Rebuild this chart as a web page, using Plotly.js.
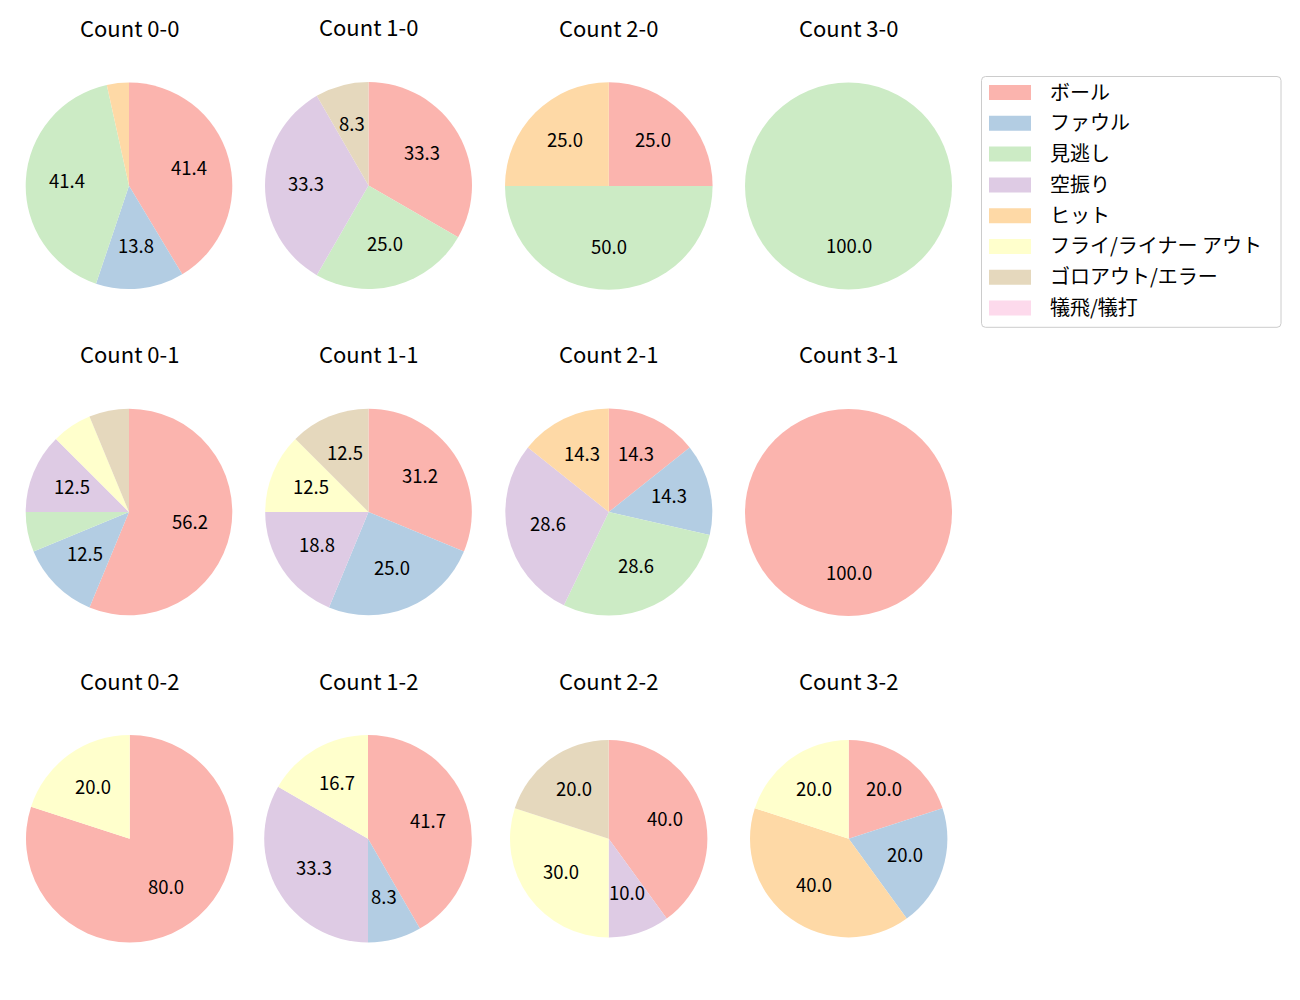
<!DOCTYPE html>
<html>
<head>
<meta charset="utf-8">
<script src="https://cdn.plot.ly/plotly-3.0.1.min.js"></script>
<style>html,body{margin:0;padding:0;background:#fff;}#chart{width:1300px;height:1000px;}</style>
</head>
<body>
<div id="chart"></div>
<script>
// ---- data ----
const categories = ['ボール', 'ファウル', '見逃し', '空振り', 'ヒット', 'フライ/ライナー アウト', 'ゴロアウト/エラー', '犠飛/犠打'];
const countLabels = ['0-0', '1-0', '2-0', '3-0', '0-1', '1-1', '2-1', '3-1', '0-2', '1-2', '2-2', '3-2'];
const count_0_0 = [12, 4, 12, 0, 1, 0, 0, 0];
const count_1_0 = [4, 0, 3, 4, 0, 0, 1, 0];
const count_2_0 = [1, 0, 2, 0, 1, 0, 0, 0];
const count_3_0 = [0, 0, 1, 0, 0, 0, 0, 0];
const count_0_1 = [9, 2, 1, 2, 0, 1, 1, 0];
const count_1_1 = [5, 4, 0, 3, 0, 2, 2, 0];
const count_2_1 = [1, 1, 2, 2, 1, 0, 0, 0];
const count_3_1 = [1, 0, 0, 0, 0, 0, 0, 0];
const count_0_2 = [4, 0, 0, 0, 0, 1, 0, 0];
const count_1_2 = [5, 1, 0, 4, 0, 2, 0, 0];
const count_2_2 = [4, 0, 0, 1, 0, 3, 2, 0];
const count_3_2 = [1, 1, 0, 0, 2, 1, 0, 0];
const countValues = [count_0_0, count_1_0, count_2_0, count_3_0,
                     count_0_1, count_1_1, count_2_1, count_3_1,
                     count_0_2, count_1_2, count_2_2, count_3_2];

// ---- style / layout ----
const colors = ['#fbb4ae', '#b3cde3', '#ccebc5', '#decbe4', '#fed9a6', '#ffffcc', '#e5d8bd', '#fddaec'];
const W = 1300, H = 1000;
const FONT = '"Noto Sans CJK JP", "Noto Sans", sans-serif';
// pie centre x, centre y, radius (pixels)
const pieGeom = [
  [129, 185.8, 103.3], [368.5, 185.5, 103.5], [608.8, 186, 103.8], [848.5, 186, 103.5],
  [129, 512, 103.3], [368.5, 512, 103.3], [608.8, 512, 103.5], [848.5, 512.5, 103.5],
  [129.7, 838.7, 103.7], [368, 838.7, 103.8], [608.7, 838.7, 98.7], [848.7, 838.7, 98.7]
];
const titleOffset = 157;
const pctDistance = 0.6;
const minPctShown = 7;

const px = x => x / W;
const py = y => 1 - y / H;

function fmtPct(p) {
  const x10 = p * 10;
  const f = Math.floor(x10);
  let n;
  if (Math.abs(x10 - f - 0.5) < 1e-9) n = (f % 2 === 0) ? f : f + 1;
  else n = Math.round(x10);
  return (n / 10).toFixed(1);
}

const traces = [];
const annotations = [];
const shapes = [];

countValues.forEach((vals, i) => {
  const [cx, cy, r] = pieGeom[i];
  traces.push({
    type: 'pie',
    labels: categories,
    values: vals,
    sort: false,
    direction: 'clockwise',
    rotation: 0,
    marker: {colors: colors, line: {width: 0}},
    textinfo: 'none',
    hoverinfo: 'label+percent',
    showlegend: false,
    domain: {x: [px(cx - r), px(cx + r)], y: [py(cy + r), py(cy - r)]}
  });
  annotations.push({
    text: 'Count ' + countLabels[i],
    x: px(cx), y: py(cy - titleOffset), xref: 'paper', yref: 'paper',
    xanchor: 'center', yanchor: 'middle', showarrow: false, yshift: 2,
    font: {family: FONT, size: 22, color: '#000'}
  });
  const total = vals.reduce((a, b) => a + b, 0);
  let cum = 0;
  vals.forEach(v => {
    if (v <= 0) return;
    const pct = v / total * 100;
    const mid = (cum + v / 2) / total * 2 * Math.PI;
    cum += v;
    if (pct < minPctShown) return;
    const tx = cx + pctDistance * r * Math.sin(mid);
    const ty = cy - pctDistance * r * Math.cos(mid);
    annotations.push({
      text: fmtPct(pct),
      x: px(tx), y: py(ty), xref: 'paper', yref: 'paper',
      xanchor: 'center', yanchor: 'middle', showarrow: false, yshift: 2.7,
      font: {family: FONT, size: 18.5, color: '#000'}
    });
  });
});

// ---- legend (drawn like matplotlib's) ----
const lg = {x0: 981.5, x1: 1281, y0: 76.5, y1: 327.3, rad: 4,
            patchX0: 989, patchX1: 1031, patchH: 15, row0: 92.5, rowStep: 30.8, textX: 1048};
(function () {
  const a = px(lg.x0), b = px(lg.x1), t = py(lg.y0), u = py(lg.y1);
  const rx = lg.rad / W, ry = lg.rad / H;
  const path = `M${a + rx},${t} L${b - rx},${t} Q${b},${t} ${b},${t - ry} L${b},${u + ry} Q${b},${u} ${b - rx},${u} L${a + rx},${u} Q${a},${u} ${a},${u + ry} L${a},${t - ry} Q${a},${t} ${a + rx},${t} Z`;
  shapes.push({type: 'path', xref: 'paper', yref: 'paper', path: path,
               line: {color: '#cccccc', width: 1}, fillcolor: 'rgba(255,255,255,0.8)'});
})();
categories.forEach((c, i) => {
  const yc = lg.row0 + i * lg.rowStep;
  shapes.push({type: 'rect', xref: 'paper', yref: 'paper',
               x0: px(lg.patchX0), x1: px(lg.patchX1),
               y0: py(yc + lg.patchH / 2), y1: py(yc - lg.patchH / 2),
               line: {width: 0}, fillcolor: colors[i]});
  annotations.push({
    text: c, x: px(lg.textX), y: py(yc), xref: 'paper', yref: 'paper',
    xanchor: 'left', yanchor: 'middle', showarrow: false, yshift: 1.5,
    font: {family: FONT, size: 20, color: '#000'}
  });
});

const layout = {
  width: W, height: H, autosize: false,
  margin: {l: 0, r: 0, t: 0, b: 0, pad: 0},
  paper_bgcolor: '#ffffff', plot_bgcolor: '#ffffff',
  showlegend: false,
  font: {family: FONT, color: '#000'},
  annotations: annotations,
  shapes: shapes
};

Plotly.newPlot('chart', traces, layout, {displayModeBar: false, staticPlot: true});
</script>
</body>
</html>
